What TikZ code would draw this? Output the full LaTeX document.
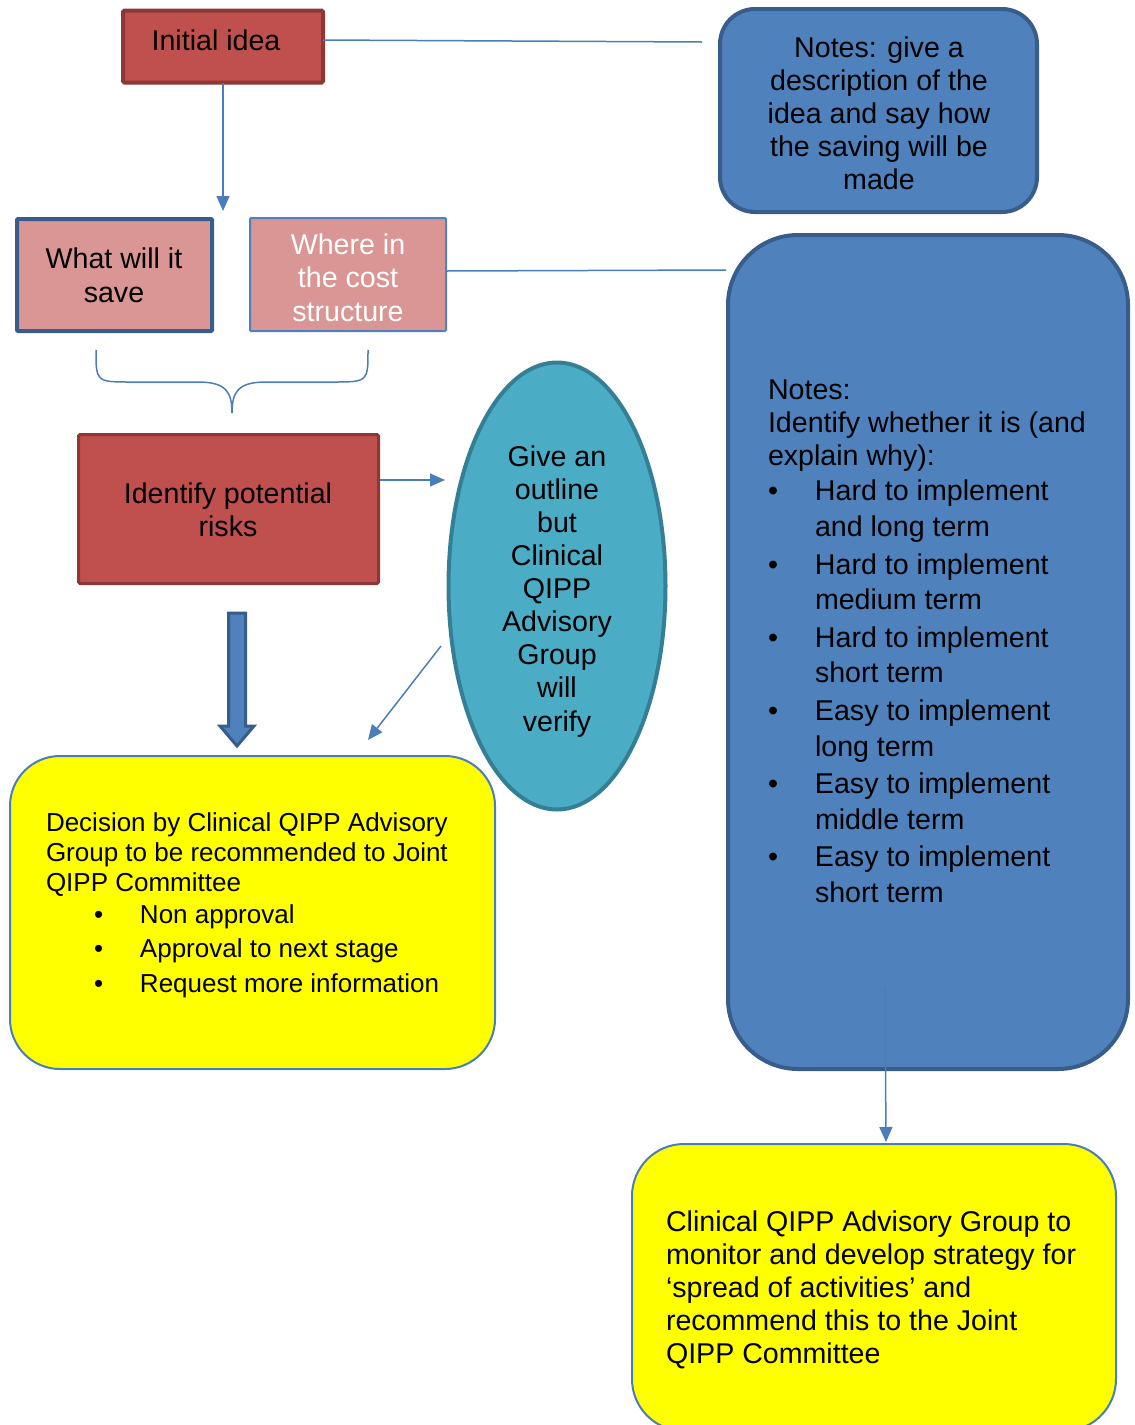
\documentclass[tikz,border=0pt]{standalone}
\usepackage{fontspec}
\setmainfont{Liberation Sans}
\usetikzlibrary{arrows.meta,shapes.geometric}

\definecolor{redfill}{HTML}{C0504D}
\definecolor{redline}{HTML}{8C3836}
\definecolor{pinkfill}{HTML}{D99694}
\definecolor{bluefill}{HTML}{4F81BD}
\definecolor{blueline}{HTML}{385D8A}
\definecolor{tealfill}{HTML}{4BACC6}
\definecolor{tealline}{HTML}{357F94}
\definecolor{connline}{HTML}{4A7EBB}
\definecolor{brightyellow}{HTML}{FFFF00}

\newcommand\txtbig{\fontsize{28.6pt}{33pt}\selectfont}
\newcommand\txtsmall{\fontsize{26pt}{30pt}\selectfont}

\tikzset{
  redbox/.style={draw=redline, fill=redfill, line width=4pt, rounded corners=1.5pt, inner sep=0pt, outer sep=0pt},
  pinkbox/.style={fill=pinkfill, inner sep=0pt, outer sep=0pt, rounded corners=1pt},
  bluebox/.style={draw=blueline, fill=bluefill, line width=4pt, inner sep=0pt, outer sep=0pt},
  yellowbox/.style={draw=connline, fill=brightyellow, line width=2pt, inner sep=0pt, outer sep=0pt},
  conn/.style={draw=connline, line width=1.5pt},
  connarrow/.style={conn, -{Triangle[length=15pt,width=13pt]}},
  label/.style={inner sep=0pt, outer sep=0pt, font=\txtbig},
}

\begin{document}
\begin{tikzpicture}[x=1pt,y=-1pt]
\useasboundingbox (0,0) rectangle (1135,1425);

% boxes
\node[redbox, minimum width=200pt, minimum height=72pt] (idea) at (223,46.5) {};
\node[pinkbox, draw=blueline, line width=4pt, minimum width=195pt, minimum height=112pt] (save) at (114.5,275) {};
\node[pinkbox, draw=bluefill, line width=2pt, minimum width=196pt, minimum height=113pt] (where) at (348,274.5) {};
\node[redbox, line width=3pt, minimum width=300pt, minimum height=149pt] (risk) at (228.5,509) {};
\node[ellipse, draw=tealline, fill=tealfill, line width=4pt, inner sep=0pt, minimum width=217pt, minimum height=447pt] (outline) at (557,586) {};
\node[yellowbox, rounded corners=50pt, minimum width=485pt, minimum height=313pt] (decision) at (252.5,912.5) {};
\node[bluebox, rounded corners=35pt, minimum width=317pt, minimum height=203pt] (notesA) at (878.5,110.5) {};
\node[bluebox, rounded corners=70pt, minimum width=400pt, minimum height=834pt] (notesB) at (928,652) {};
\node[yellowbox, rounded corners=52pt, minimum width=484pt, minimum height=287pt] (monitor) at (874,1287.5) {};

% free ends of connectors
\coordinate (ideaEnd) at (702,42);
\coordinate (ideaDown) at (223,211);
\coordinate (whereEnd) at (726,270);
\coordinate (riskStart) at (380,480);
\coordinate (riskEnd) at (445,480);
\coordinate (ovalStart) at (441,646);
\coordinate (ovalEnd) at (368,740);
\coordinate (notesStart) at (885,988);
\coordinate (notesEnd) at (886,1142);

% connectors
\draw[conn] ([yshift=6.5pt]idea.east) -- (ideaEnd);
\draw[connarrow] (idea.south) -- (ideaDown);
\draw[conn] ([yshift=3.5pt]where.east) -- (whereEnd);
\draw[connarrow] (riskStart) -- (riskEnd);
\draw[connarrow] (ovalStart) -- (ovalEnd);
\draw[connarrow] (notesStart) -- (notesEnd);

% curly brace under the two pink boxes
\draw[conn] (96,350) .. controls (96,382) and (96,382) .. (132,382) -- (198,382)
  .. controls (226,382) and (232,392) .. (232,413);
\draw[conn] (368,350) .. controls (368,382) and (368,382) .. (332,382) -- (266,382)
  .. controls (238,382) and (232,392) .. (232,413);

% block arrow
\draw[draw=blueline, fill=bluefill, line width=3pt, line join=miter]
  (228.5,613) -- (245.5,613) -- (245.5,726) -- (254,726) -- (237,746) -- (220,726) -- (228.5,726) -- cycle;

% texts (anchor base = baseline of the last line)
\node[label, anchor=base] (ideaT) at (216,50) {Initial idea};
\node[label, anchor=base, align=center, font=\fontsize{28.6pt}{34pt}\selectfont] (saveT) at (114,302) {What will it\\save};
\node[label, anchor=base, align=center, text=white, font=\fontsize{28.6pt}{33.5pt}\selectfont] (whereT) at (348,321) {Where in\\the cost\\structure};
\node[label, anchor=base, align=center] (riskT) at (228,536) {Identify potential\\risks};
\node[label, anchor=base, align=center, font=\fontsize{28.6pt}{33.1pt}\selectfont] (outlineT) at (557,731)
  {Give an\\outline\\but\\Clinical\\QIPP\\Advisory\\Group\\will\\verify};
\node[label, anchor=base, align=center] (notesAT) at (879,189)
  {Notes: give a\\description of the\\idea and say how\\the saving will be\\made};
\node[label, anchor=base west, align=left] (notesBT) at (768,902)
  {Notes:\\
   Identify whether it is (and\\
   explain why):\\[2pt]
   \makebox[47pt][l]{•}Hard to implement\\[3pt]
   \hspace*{47pt}and long term\\[5pt]
   \makebox[47pt][l]{•}Hard to implement\\[2pt]
   \hspace*{47pt}medium term\\[5pt]
   \makebox[47pt][l]{•}Hard to implement\\[2pt]
   \hspace*{47pt}short term\\[5pt]
   \makebox[47pt][l]{•}Easy to implement\\[3pt]
   \hspace*{47pt}long term\\[4pt]
   \makebox[47pt][l]{•}Easy to implement\\[3pt]
   \hspace*{47pt}middle term\\[4pt]
   \makebox[47pt][l]{•}Easy to implement\\[3pt]
   \hspace*{47pt}short term};
\node[label, anchor=base west, align=left, font=\txtsmall] (decisionT) at (46,992)
  {Decision by Clinical QIPP Advisory\\
   Group to be recommended to Joint\\
   QIPP Committee\\[2pt]
   \hspace*{48pt}\makebox[46pt][l]{•}Non approval\\[4pt]
   \hspace*{48pt}\makebox[46pt][l]{•}Approval to next stage\\[5pt]
   \hspace*{48pt}\makebox[46pt][l]{•}Request more information};
\node[label, anchor=base west, align=left] (monitorT) at (666,1363)
  {Clinical QIPP Advisory Group to\\
   monitor and develop strategy for\\
   ‘spread of activities’ and\\
   recommend this to the Joint\\
   QIPP Committee};
\end{tikzpicture}
\end{document}
